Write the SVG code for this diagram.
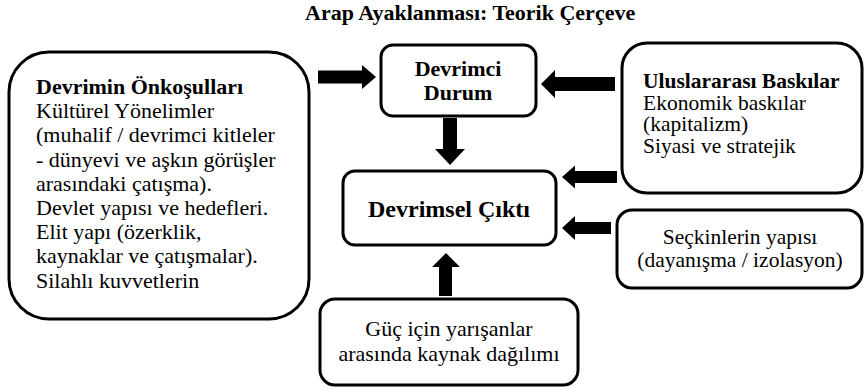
<svg xmlns="http://www.w3.org/2000/svg" width="864" height="390" viewBox="0 0 864 390">
<style>
.box{fill:#fff;stroke:#000;stroke-width:3}
text{font-family:"Liberation Serif","Times New Roman",serif;fill:#000}
.b{font-weight:bold}
.t{font-size:22px}
.c{text-anchor:middle}
.arr{fill:#000}
</style>
<rect width="864" height="390" fill="#fff"/>
<text class="b t" x="305" y="20">Arap Ayaklanması: Teorik Çerçeve</text>
<g id="onkosullar">
<rect class="box" x="9" y="52" width="300" height="267" rx="40"/>
<text class="t" x="36" y="94"><tspan class="b">Devrimin Önkoşulları</tspan><tspan x="36" dy="24.2">Kültürel Yönelimler</tspan><tspan x="36" dy="24.2">(muhalif / devrimci kitleler</tspan><tspan x="36" dy="24.2">- dünyevi ve aşkın görüşler</tspan><tspan x="36" dy="24.2">arasındaki çatışma).</tspan><tspan x="36" dy="24.2">Devlet yapısı ve hedefleri.</tspan><tspan x="36" dy="24.2">Elit yapı (özerklik,</tspan><tspan x="36" dy="24.2">kaynaklar ve çatışmalar).</tspan><tspan x="36" dy="24.2">Silahlı kuvvetlerin</tspan></text>
</g>
<g id="devrimci-durum">
<rect class="box" x="381" y="45" width="155" height="71" rx="12"/>
<text class="b t c" x="458" y="76">Devrimci<tspan x="458" dy="24">Durum</tspan></text>
</g>
<g id="devrimsel-cikti">
<rect class="box" x="343" y="171" width="213" height="74" rx="12"/>
<text class="b c" x="449" y="217" font-size="24">Devrimsel Çıktı</text>
</g>
<g id="uluslararasi">
<rect class="box" x="622" y="43" width="240" height="150" rx="25"/>
<text x="643" y="88" font-size="21.5"><tspan class="b">Uluslararası Baskılar</tspan><tspan x="643" dy="21.7">Ekonomik baskılar</tspan><tspan x="643" dy="21.7">(kapitalizm)</tspan><tspan x="643" dy="21.7">Siyasi ve stratejik</tspan></text>
</g>
<g id="seckinler">
<rect class="box" x="617" y="210" width="245" height="78" rx="15"/>
<text class="c" x="740" y="244" font-size="21.5">Seçkinlerin yapısı<tspan x="740" dy="23">(dayanışma / izolasyon)</tspan></text>
</g>
<g id="kaynak">
<rect class="box" x="320" y="299" width="258" height="86" rx="15"/>
<text class="t c" x="449" y="336">Güç için yarışanlar<tspan x="449" dy="25">arasında kaynak dağılımı</tspan></text>
</g>
<g id="connectors">
<polygon class="arr" points="318,70.5 362,70.5 362,65 376,77 362,89 362,83.5 318,83.5"/>
<polygon class="arr" points="615,77 555,77 555,70 541,84 555,98 555,91 615,91"/>
<polygon class="arr" points="443,118 457,118 457,149 465,149 450,165 435,149 443,149"/>
<polygon class="arr" points="617,171 575,171 575,165.5 562,177 575,188.5 575,183 617,183"/>
<polygon class="arr" points="611,222 575,222 575,216 562,228 575,240 575,234 611,234"/>
<polygon class="arr" points="439,296 452,296 452,267 460,267 446,253 432,267 439,267"/>
</g>
</svg>
